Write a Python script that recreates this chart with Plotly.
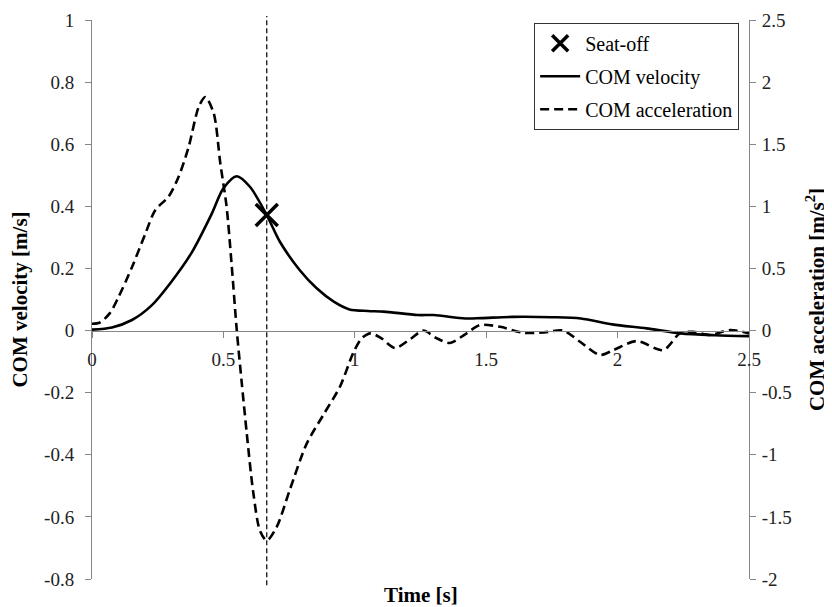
import plotly.graph_objects as go

# ---- data ----
t_vel = [0, 0.076, 0.152, 0.228, 0.30, 0.38, 0.455, 0.50, 0.551, 0.601, 0.665,
         0.715, 0.79, 0.855, 0.92, 0.98, 1.05, 1.11, 1.24, 1.30, 1.42, 1.48, 1.60,
         1.75, 1.86, 1.98, 2.11, 2.24, 2.37, 2.5]
com_velocity = [0.003, 0.01, 0.034, 0.082, 0.155, 0.252, 0.375, 0.458, 0.497, 0.463,
                0.372, 0.286, 0.195, 0.136, 0.093, 0.068, 0.063, 0.061, 0.05, 0.05,
                0.039, 0.04, 0.044, 0.043, 0.039, 0.02, 0.007, -0.009, -0.015, -0.018]

t_acc = [0, 0.03, 0.068, 0.101, 0.152, 0.203, 0.241, 0.292, 0.33, 0.368, 0.406, 0.431,
         0.463, 0.488, 0.512, 0.531, 0.551, 0.570, 0.589, 0.614, 0.639, 0.665, 0.703,
         0.753, 0.817, 0.88, 0.944, 0.994, 1.026, 1.06, 1.10, 1.153, 1.21, 1.261,
         1.31, 1.362, 1.42, 1.476, 1.553, 1.641, 1.72, 1.793, 1.857, 1.933, 1.984,
         2.072, 2.174, 2.237, 2.288, 2.351, 2.428, 2.5]
com_acceleration = [0.055, 0.065, 0.14, 0.27, 0.51, 0.78, 0.97, 1.08, 1.24, 1.48, 1.80,
                    1.88, 1.75, 1.35, 1.00, 0.54, 0, -0.425, -0.83, -1.31, -1.61,
                    -1.69, -1.58, -1.28, -0.91, -0.68, -0.45, -0.18, -0.063, -0.023,
                    -0.06, -0.14, -0.07, 0, -0.06, -0.10, -0.03, 0.044, 0.03, -0.018,
                    -0.015, 0, -0.09, -0.197, -0.157, -0.085, -0.157, -0.023, -0.01,
                    -0.036, 0.004, -0.023]

seat_off_time = [0.665]
seat_off_velocity = [0.372]

x_tickvals = [0, 0.5, 1, 1.5, 2, 2.5]
x_ticktext = ["0", "0.5", "1", "1.5", "2", "2.5"]
yl_tickvals = [1, 0.8, 0.6, 0.4, 0.2, 0, -0.2, -0.4, -0.6, -0.8]
yl_ticktext = ["1", "0.8", "0.6", "0.4", "0.2", "0", "-0.2", "-0.4", "-0.6", "-0.8"]
yr_tickvals = [2.5, 2, 1.5, 1, 0.5, 0, -0.5, -1, -1.5, -2]
yr_ticktext = ["2.5", "2", "1.5", "1", "0.5", "0", "-0.5", "-1", "-1.5", "-2"]

FONT = "'Liberation Serif', 'DejaVu Serif', serif"
AXIS_GREY = "#868686"

fig = go.Figure()

fig.add_trace(go.Scatter(
    x=seat_off_time, y=seat_off_velocity, mode="markers", name="Seat-off",
    legendgroup="a",
    marker=dict(symbol="x-thin", size=22, color="black",
                line=dict(width=3.5, color="black")),
))
fig.add_trace(go.Scatter(
    x=t_vel, y=com_velocity, mode="lines", name="COM velocity", legendgroup="b",
    line=dict(color="black", width=2.6, shape="spline", smoothing=0.8),
))
fig.add_trace(go.Scatter(
    x=t_acc, y=com_acceleration, mode="lines", name="COM acceleration",
    legendgroup="c", yaxis="y2",
    line=dict(color="black", width=2.6, dash="9px,5px", shape="spline", smoothing=0.8),
))

# seat-off vertical dashed line
fig.add_shape(type="line", xref="x", yref="paper",
              x0=seat_off_time[0], x1=seat_off_time[0], y0=-0.011, y1=1.007,
              line=dict(color="black", width=1.2, dash="5px,3px"))

fig.update_layout(
    width=824, height=599,
    margin=dict(l=84, r=83, t=12, b=28, autoexpand=False),
    paper_bgcolor="white", plot_bgcolor="white",
    font=dict(family=FONT, size=19, color="black"),
    showlegend=True,
    legend=dict(
        x=0.985, xanchor="right", y=0.995, yanchor="top",
        bordercolor="#333333", borderwidth=1, bgcolor="white",
        font=dict(family=FONT, size=20, color="black"),
        tracegroupgap=4, itemwidth=40,
    ),
    xaxis=dict(
        range=[0, 2.5], anchor="free", position=0.8 / 1.8, automargin=False,
        showline=True, linecolor=AXIS_GREY, linewidth=1,
        ticks="outside", ticklen=6, tickcolor=AXIS_GREY, ticklabelstandoff=6,
        tickvals=x_tickvals, ticktext=x_ticktext,
        showgrid=False, zeroline=False,
        tickfont=dict(family=FONT, size=19, color="#222222"),
    ),
    yaxis=dict(
        range=[-0.8, 1], automargin=False,
        showline=True, linecolor=AXIS_GREY, linewidth=1,
        ticks="outside", ticklen=6, tickcolor=AXIS_GREY, ticklabelstandoff=7,
        tickvals=yl_tickvals, ticktext=yl_ticktext,
        showgrid=False, zeroline=False,
        tickfont=dict(family=FONT, size=19, color="#222222"),
        title=dict(text="<b>COM velocity [m/s]</b>", standoff=13,
                   font=dict(family=FONT, size=21, color="black")),
    ),
    yaxis2=dict(
        range=[-2, 2.5], overlaying="y", side="right", anchor="x", automargin=False,
        showline=True, linecolor=AXIS_GREY, linewidth=1,
        ticks="outside", ticklen=6, tickcolor=AXIS_GREY, ticklabelstandoff=2,
        tickvals=yr_tickvals, ticktext=yr_ticktext,
        showgrid=False, zeroline=False,
        tickfont=dict(family=FONT, size=19, color="#222222"),
        title=dict(text="<b>COM acceleration [m/s<sup>2</sup>]</b>", standoff=18,
                   font=dict(family=FONT, size=21, color="black")),
    ),
    annotations=[dict(
        text="<b>Time [s]</b>", xref="paper", yref="paper", x=0.5, y=0,
        yanchor="top", yshift=-2, showarrow=False,
        font=dict(family=FONT, size=21, color="black"),
    )],
)

fig.write_html("out.html")
